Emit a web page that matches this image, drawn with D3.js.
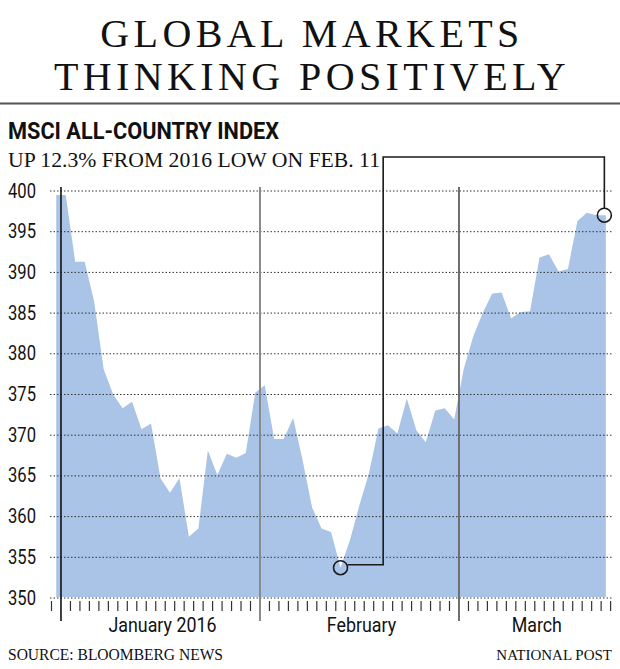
<!DOCTYPE html>
<html>
<head>
<meta charset="utf-8">
<script src="https://cdn.jsdelivr.net/npm/d3@7"></script>
<style>
  html, body { margin: 0; padding: 0; background: #fff; }
  svg { display: block; }
</style>
</head>
<body>
<svg id="chart" width="620" height="669"></svg>
<script>
// ---- data ----
const dates = [
  "2015-12-31",
  "2016-01-01","2016-01-04","2016-01-05","2016-01-06","2016-01-07","2016-01-08",
  "2016-01-11","2016-01-12","2016-01-13","2016-01-14","2016-01-15",
  "2016-01-18","2016-01-19","2016-01-20","2016-01-21","2016-01-22",
  "2016-01-25","2016-01-26","2016-01-27","2016-01-28","2016-01-29",
  "2016-02-01","2016-02-02","2016-02-03","2016-02-04","2016-02-05",
  "2016-02-08","2016-02-09","2016-02-10","2016-02-11","2016-02-12",
  "2016-02-15","2016-02-16","2016-02-17","2016-02-18","2016-02-19",
  "2016-02-22","2016-02-23","2016-02-24","2016-02-25","2016-02-26",
  "2016-02-29",
  "2016-03-01","2016-03-02","2016-03-03","2016-03-04",
  "2016-03-07","2016-03-08","2016-03-09","2016-03-10","2016-03-11",
  "2016-03-14","2016-03-15","2016-03-16","2016-03-17","2016-03-18",
  "2016-03-21","2016-03-22"
];
const indexValues = [
  399.4,
  399.4, 391.2, 391.2, 386.3, 378.0, 374.9,
  373.2, 374.0, 370.6, 371.3, 364.6,
  362.8, 364.6, 357.4, 358.4, 368.0,
  365.0, 367.6, 367.1, 367.7, 375.1,
  376.0, 369.4, 369.4, 372.0, 366.8,
  361.0, 358.4, 358.0, 353.6, 357.0,
  361.3, 365.2, 370.7, 371.1, 370.1,
  374.4, 370.5, 369.0, 372.9, 373.2,
  371.8,
  378.0, 382.0, 384.9, 387.3,
  387.4, 384.2, 385.0, 385.1, 391.7,
  392.1, 390.0, 390.3, 396.2, 397.2,
  396.9, 396.9
];
const yTickValues = [350, 355, 360, 365, 370, 375, 380, 385, 390, 395, 400];
const months = [
  { key: "2016-01", label: "January 2016" },
  { key: "2016-02", label: "February" },
  { key: "2016-03", label: "March" }
];
const titleLines = ["GLOBAL MARKETS", "THINKING POSITIVELY"];
const chartTitle = "MSCI ALL-COUNTRY INDEX";
const subtitle = "UP 12.3% FROM 2016 LOW ON FEB. 11";
const sourceText = "SOURCE: BLOOMBERG NEWS";
const creditText = "NATIONAL POST";

// ---- build ----
const data = dates.map((d, i) => ({ date: d, v: indexValues[i] }));
const svg = d3.select("#chart");

const x = d3.scaleBand().domain(dates).range([51.5, 610.6]).padding(0);
const xc = d => x(d) + x.bandwidth() / 2;
const y = d3.scaleLinear().domain([350, 400]).range([597, 190]);

const serif = "'Liberation Serif', 'Times New Roman', serif";
const sans = "Roboto, 'Liberation Sans', Arial, sans-serif";

// Title
svg.selectAll("text.title").data(titleLines).join("text")
  .attr("class", "title")
  .attr("x", 312).attr("y", (d, i) => 47 + i * 43)
  .attr("text-anchor", "middle")
  .attr("font-family", serif).attr("font-size", 40)
  .attr("letter-spacing", 4.4)
  .attr("fill", "#111")
  .text(d => d);

// rule
svg.append("line").attr("x1", 0).attr("x2", 620).attr("y1", 103.5).attr("y2", 103.5)
  .attr("stroke", "#555").attr("stroke-width", 2);

svg.append("text").attr("x", 8).attr("y", 139)
  .attr("font-family", sans).attr("font-weight", 700).attr("font-size", 23)
  .attr("textLength", 271).attr("lengthAdjust", "spacingAndGlyphs")
  .attr("fill", "#111").text(chartTitle);

svg.append("text").attr("x", 8).attr("y", 167)
  .attr("font-family", serif).attr("font-size", 21)
  .attr("textLength", 372).attr("lengthAdjust", "spacingAndGlyphs")
  .attr("fill", "#111").text(subtitle);

// area
const area = d3.area()
  .x(d => xc(d.date))
  .y0(y(350))
  .y1(d => y(d.v));
svg.append("path").datum(data).attr("d", area).attr("fill", "#a9c4e7");

// gridlines via d3 axis (dotted)
const gridAxis = d3.axisRight(y).tickValues(yTickValues).tickSize(562).tickFormat("");
const grid = svg.append("g").attr("transform", "translate(50,0.5)").call(gridAxis);
grid.select(".domain").remove();
grid.selectAll(".tick line")
  .attr("stroke", "#333")
  .attr("stroke-width", 1)
  .style("stroke-dasharray", "1.5 2");

// y labels
svg.append("g").selectAll("text").data(yTickValues).join("text")
  .attr("x", 36).attr("y", d => y(d) + 7.5)
  .attr("text-anchor", "end")
  .attr("font-family", sans).attr("font-size", 21)
  .attr("textLength", 28).attr("lengthAdjust", "spacingAndGlyphs")
  .attr("fill", "#111").text(d => d);

// ticks
const monthStarts = months.map(m => dates.find(d => d.startsWith(m.key)));
const tickPositions = dates.filter(d => !monthStarts.includes(d)).map(d => x(d))
  .concat([x.range()[1]]);
svg.append("g").selectAll("line").data(tickPositions).join("line")
  .attr("x1", d => d).attr("x2", d => d)
  .attr("y1", 601).attr("y2", 611)
  .attr("stroke", "#333").attr("stroke-width", 1.2);

// month lines
const monthLineColors = ["#111", "#8a8a8a", "#6e6e6e"];
svg.append("g").selectAll("line").data(monthStarts).join("line")
  .attr("x1", d => x(d)).attr("x2", d => x(d))
  .attr("y1", 187).attr("y2", 621)
  .attr("stroke", (d, i) => monthLineColors[i]).attr("stroke-width", (d, i) => i === 0 ? 1.6 : 2);

// month labels
const monthCenter = m => d3.mean(dates.filter(d => d.startsWith(m.key)), xc) + 2;
svg.append("g").selectAll("text").data(months).join("text")
  .attr("x", monthCenter)
  .attr("y", 632)
  .attr("text-anchor", "middle")
  .attr("font-family", sans).attr("font-size", 21)
  .attr("transform", m => {
    const cx = monthCenter(m);
    return `translate(${cx},0) scale(0.85,1) translate(${-cx},0)`;
  })
  .attr("fill", "#111").text(m => m.label);

// annotation
const low = data.reduce((a, b) => (b.v < a.v ? b : a));
const last = data[data.length - 1];
const r = 7;
const lowX = xc(low.date), lowY = y(low.v);
const lastX = xc(last.date) - 1.5, lastY = y(last.v);
const connX = x("2016-02-18");
const topY = 157;
svg.append("path")
  .attr("d", `M${lowX + r},${lowY - 3}H${connX}V${topY}H${lastX}V${lastY - r}`)
  .attr("fill", "none").attr("stroke", "#1a1a1a").attr("stroke-width", 1.6);
svg.selectAll("circle.mark").data([[lowX, lowY], [lastX, lastY]]).join("circle")
  .attr("class", "mark")
  .attr("cx", d => d[0]).attr("cy", d => d[1]).attr("r", r)
  .attr("fill", "none").attr("stroke", "#1a1a1a").attr("stroke-width", 1.6);

// footer
svg.append("text").attr("x", 8).attr("y", 660)
  .attr("font-family", serif).attr("font-size", 16)
  .attr("textLength", 215).attr("lengthAdjust", "spacingAndGlyphs")
  .attr("fill", "#111").text(sourceText);
svg.append("text").attr("x", 612).attr("y", 660)
  .attr("text-anchor", "end")
  .attr("font-family", serif).attr("font-size", 15)
  .attr("fill", "#111").text(creditText);
</script>
</body>
</html>
